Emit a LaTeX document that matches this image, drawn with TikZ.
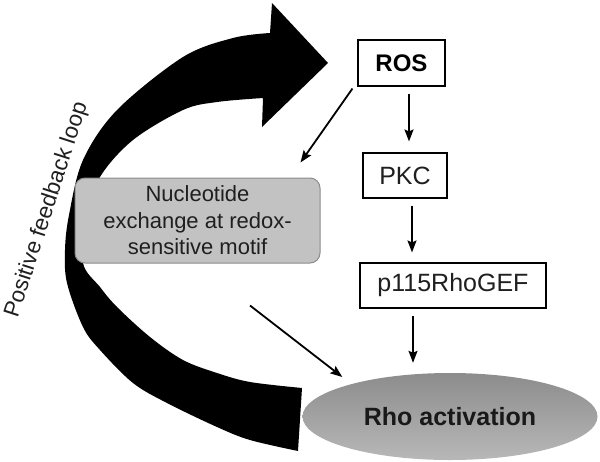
\documentclass[tikz,border=0pt]{standalone}
\usepackage{fontspec}
\setmainfont{Liberation Sans}
\usetikzlibrary{shapes.geometric,arrows.meta}
\begin{document}
\begin{tikzpicture}[x=1pt,y=-1pt,
  boxnode/.style={draw=black,line width=1.1pt,fill=white,inner sep=0pt,text=black!88},
  conn/.style={draw=black,line width=1.8pt,-{Stealth[length=12pt,width=9pt,inset=2pt]}},
  bigarrow/.style={fill=black}]
\useasboundingbox (0,0) rectangle (600,461);
% big feedback arrow
\fill[bigarrow] plot[smooth,tension=0.55] coordinates {(298,451) (250,440) (217,427) (167,403) (133,383) (100,350) (83,327) (67,283) (65,250) (69,215) (83,160) (117,110) (183,57) (233,38) (270,33)}
  -- (272,3) -- (328,63) -- (262,127) -- (263,98)
  -- plot[smooth,tension=0.55] coordinates {(263,98) (217,102) (183,110) (133,140) (100,177) (86,218) (83,263) (100,287) (117,307) (150,337) (183,360) (217,373) (250,382) (302,388)} -- cycle;
% nodes
\node[boxnode,minimum width=87pt,minimum height=46pt,font=\fontsize{24}{28}\selectfont\bfseries,text=black] (ros) at (401.5,63) {ROS};
\node[boxnode,minimum width=84pt,minimum height=45pt,font=\fontsize{25}{29}\selectfont] (pkc) at (405,175.5) {PKC};
\node[boxnode,minimum width=186pt,minimum height=45pt,font=\fontsize{25}{29}\selectfont] (gef) at (453,285.5) {p115RhoGEF};
\node[ellipse,inner sep=0pt,minimum width=295pt,minimum height=87pt,top color=black!45,bottom color=black!28,font=\fontsize{25}{29}\selectfont\bfseries,text=black!90] (rho) at (450,416.5) {Rho activation};
\node[draw=black!45,line width=1pt,fill=black!24,rounded corners=10pt,minimum width=245pt,minimum height=85pt,inner sep=0pt,align=center,font=\fontsize{22}{26.5}\selectfont,text=black!88] (nuc) at (197.5,220.5) {Nucleotide\\exchange at redox-\\sensitive motif};
\node[rotate=72,inner sep=0pt,font=\fontsize{22.5}{26}\selectfont,text=black!88] (loop) at (47,210) {Positive feedback loop};
% connectors
\draw[conn,shorten <=7pt,shorten >=11pt] ([xshift=7.5pt]ros.south) -- ([xshift=7.5pt]ros.south |- pkc.north);
\draw[conn,shorten <=7pt,shorten >=10pt] ([xshift=7pt]pkc.south) -- ([xshift=7pt]pkc.south |- gef.north);
\draw[conn,shorten <=7pt,shorten >=10pt] ([xshift=-40pt]gef.south) -- ([xshift=-40pt]gef.south |- rho.north);
\draw[conn] ([shift={(-5pt,-2pt)}]ros.south west) -- ([shift={(-20pt,15pt)}]nuc.north east);
\draw[conn] ([shift={(52.5pt,-42pt)}]nuc.south) -- ([shift={(40pt,39.5pt)}]rho.west);
\end{tikzpicture}
\end{document}
